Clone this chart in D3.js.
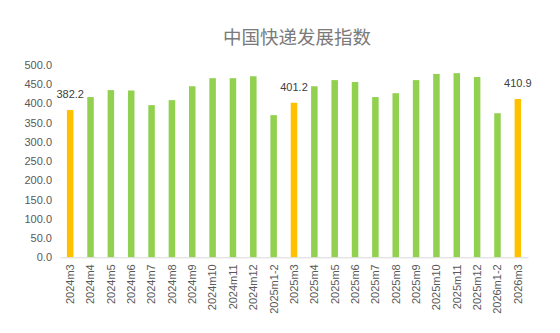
<!DOCTYPE html>
<html>
<head>
<meta charset="utf-8">
<script src="https://cdn.jsdelivr.net/npm/d3@7"></script>
<style>
  html, body { margin: 0; padding: 0; background: #ffffff; }
  svg { display: block; }
</style>
</head>
<body>
<svg id="chart" width="560" height="333"></svg>
<script>
// Monthly China Express Delivery Development Index
const categories = [
  "2024m3", "2024m4", "2024m5", "2024m6", "2024m7", "2024m8", "2024m9",
  "2024m10", "2024m11", "2024m12", "2025m1-2", "2025m3", "2025m4", "2025m5",
  "2025m6", "2025m7", "2025m8", "2025m9", "2025m10", "2025m11", "2025m12",
  "2026m1-2", "2026m3"
];
const values = [
  382.2, 416, 434, 433, 395, 408, 444,
  465, 465, 470, 369, 401.2, 444, 460,
  455, 416, 426, 460, 476, 478, 468,
  374, 410.9
];
// March figures are highlighted and labelled
const highlighted = ["2024m3", "2025m3", "2026m3"];
const yTicks = [0, 50, 100, 150, 200, 250, 300, 350, 400, 450, 500];
const titleText = "中国快递发展指数";

const svg = d3.select("#chart");
const margin = { left: 60, right: 32, top: 64.7, bottom: 75.7 };
const W = 560, H = 333;

const x = d3.scaleBand()
  .domain(categories)
  .range([margin.left, W - margin.right])
  .paddingInner(0.68)
  .paddingOuter(0.34);

const y = d3.scaleLinear()
  .domain([0, 500])
  .range([H - margin.bottom, margin.top]);

// Title
svg.append("text")
  .attr("x", 297)
  .attr("y", 44)
  .attr("text-anchor", "middle")
  .attr("font-family", "'Noto Sans CJK SC', sans-serif")
  .attr("font-size", 18.5)
  .attr("fill", "#7a7a7a")
  .text(titleText);

// Y axis (labels only)
const yAxis = svg.append("g")
  .attr("transform", `translate(${margin.left - 8},0)`)
  .call(d3.axisLeft(y).tickValues(yTicks).tickFormat(d3.format(".1f")).tickSize(0).tickPadding(0));
yAxis.select(".domain").remove();
yAxis.selectAll("text")
  .attr("font-family", "'Liberation Sans', Arial, sans-serif")
  .attr("font-size", 11)
  .attr("fill", "#595959");

// Bars
svg.append("g")
  .selectAll("rect")
  .data(categories)
  .join("rect")
  .attr("x", (d) => x(d))
  .attr("width", x.bandwidth())
  .attr("y", (d, i) => y(values[i]))
  .attr("height", (d, i) => y(0) - y(values[i]))
  .attr("fill", (d) => highlighted.includes(d) ? "#FFC000" : "#92D050");

// X axis
const xAxis = svg.append("g")
  .attr("transform", `translate(0,${y(0)})`)
  .call(d3.axisBottom(x).tickSize(0).tickPadding(0));
xAxis.select(".domain")
  .attr("stroke", "#d9d9d9")
  .attr("stroke-width", 1);
xAxis.selectAll("text")
  .attr("font-family", "'Liberation Sans', Arial, sans-serif")
  .attr("font-size", 11)
  .attr("fill", "#595959")
  .attr("text-anchor", "end")
  .attr("dy", "0.35em")
  .attr("transform", "translate(0,7) rotate(-90)")
  .attr("x", 0)
  .attr("y", 0);

// Value labels for highlighted months
svg.append("g")
  .selectAll("text")
  .data(categories.filter((d) => highlighted.includes(d)))
  .join("text")
  .attr("x", (d) => x(d) + x.bandwidth() / 2)
  .attr("y", (d) => y(values[categories.indexOf(d)]) - 12)
  .attr("text-anchor", "middle")
  .attr("font-family", "'Liberation Sans', Arial, sans-serif")
  .attr("font-size", 11)
  .attr("fill", "#404040")
  .text((d) => values[categories.indexOf(d)].toFixed(1));
</script>
</body>
</html>
